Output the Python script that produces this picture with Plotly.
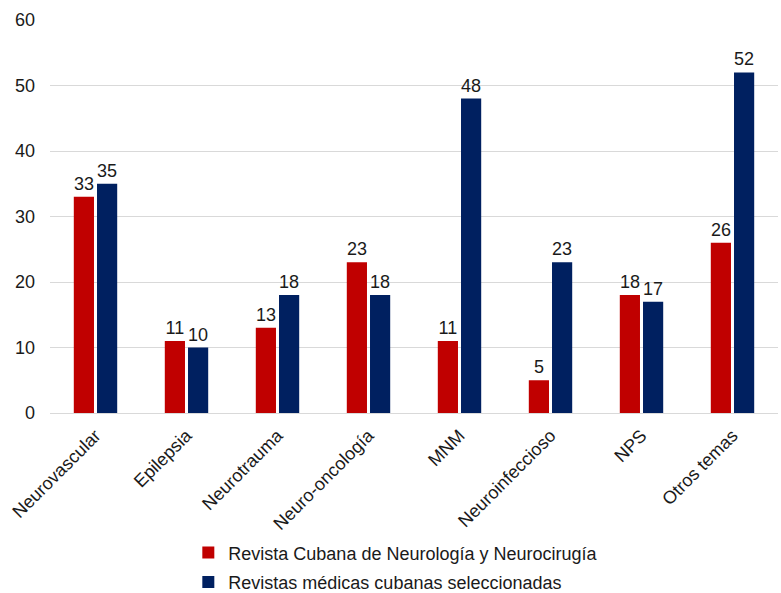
import plotly.graph_objects as go

categories = ["Neurovascular", "Epilepsia", "Neurotrauma", "Neuro-oncología",
              "MNM", "Neuroinfeccioso", "NPS", "Otros temas"]
rcnn = [33, 11, 13, 23, 11, 5, 18, 26]
rmcs = [35, 10, 18, 18, 48, 23, 17, 52]
series_names = ["Revista Cubana de Neurología y Neurocirugía",
                "Revistas médicas cubanas seleccionadas"]
y_ticks = [0, 10, 20, 30, 40, 50, 60]

FONT = "Liberation Sans, Arial, sans-serif"
TXT = "#1a1a1a"
fig = go.Figure()
fig.add_trace(go.Bar(x=categories, y=rcnn, name=series_names[0], legendgroup="a",
                     marker=dict(color="#C00000", line=dict(width=0)),
                     text=rcnn, textposition="outside",
                     textfont=dict(size=18, color=TXT, family=FONT),
                     cliponaxis=False))
fig.add_trace(go.Bar(x=categories, y=rmcs, name=series_names[1], legendgroup="b",
                     marker=dict(color="#002060", line=dict(width=0)),
                     text=rmcs, textposition="outside",
                     textfont=dict(size=18, color=TXT, family=FONT),
                     cliponaxis=False))

fig.update_layout(
    width=781, height=593,
    margin=dict(l=50, r=3, t=20, b=180),
    paper_bgcolor="white", plot_bgcolor="white",
    font=dict(family=FONT, size=18, color=TXT),
    barmode="group", bargap=0.49, bargroupgap=0.13,
    showlegend=True,
    legend=dict(orientation="v", xref="paper", yref="container",
                x=0.19, xanchor="left", y=0.099, yanchor="top",
                font=dict(size=18, color=TXT, family=FONT),
                itemwidth=30, traceorder="grouped", tracegroupgap=3),
    xaxis=dict(tickangle=-45, showgrid=False, showline=True, linecolor="#d9d9d9",
               linewidth=1, ticks="", tickfont=dict(size=18), automargin=False,
               ticklabelstandoff=4),
    yaxis=dict(range=[0, 60], tickvals=y_ticks, showgrid=True, gridcolor="#d9d9d9",
               gridwidth=1, zeroline=False, showline=False, ticks="",
               tickfont=dict(size=18), automargin=False, ticklabelstandoff=14),
)
fig.write_html("out.html", config={"displayModeBar": False},
               post_script="document.body.style.margin='0';document.body.style.overflow='hidden';")
